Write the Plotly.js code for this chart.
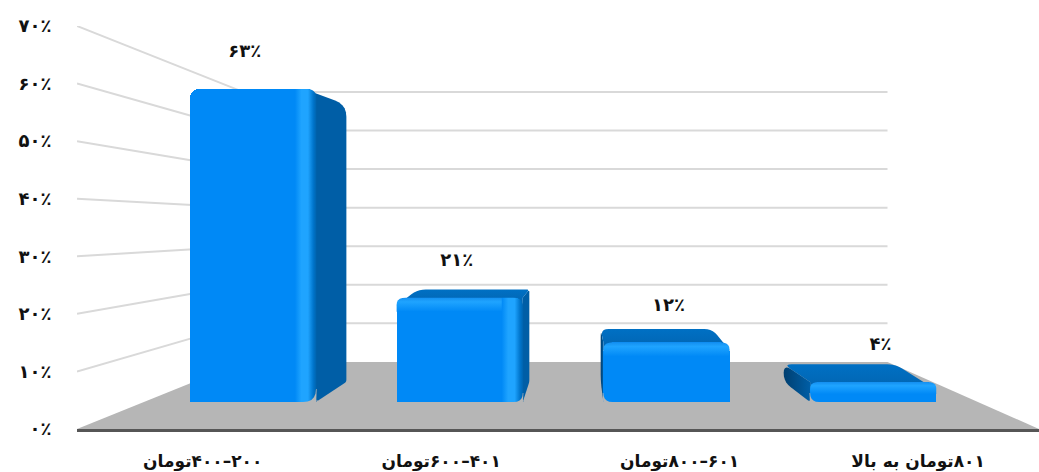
<!DOCTYPE html>
<html>
<head>
<meta charset="utf-8">
<script src="https://cdn.plot.ly/plotly-3.0.1.min.js"></script>
<style>html,body{margin:0;padding:0;background:#fff}#chart{width:1039px;height:472px}</style>
</head>
<body>
<div id="chart"></div>
<script>
// Chart content
const categories = ['\u202B۲۰۰–۴۰۰تومان\u202C', '\u202B۴۰۱–۶۰۰تومان\u202C', '\u202B۶۰۱–۸۰۰تومان\u202C', '\u202B۸۰۱تومان به بالا\u202C'];
const shares = [63, 21, 12, 4];
const shareLabels = ['۶۳٪', '۲۱٪', '۱۲٪', '۴٪'];
const yTicks = [0, 10, 20, 30, 40, 50, 60, 70];
const yTickLabels = ['۰٪', '۱۰٪', '۲۰٪', '۳۰٪', '۴۰٪', '۵۰٪', '۶۰٪', '۷۰٪'];

// Canvas and perspective set-up (all scene geometry is projected towards one vanishing point)
const W = 1039, H = 472;
const xRange = [-0.527, 3.507];
const vanish = {x: 1.582, y: 35.3};
const kBackWall = 0.67;     // back wall relative to the front edge of the floor
const kBarDepth = 0.885;    // rear of a bar relative to its front face
const kLabel = 1.025;       // horizontal spread of the value labels
const barWidth = 0.61;
const pxPerX = 206.7, pxPerY = 4.97;
const fontFamily = '"DejaVu Sans", "Noto Sans", sans-serif';
const ink = '#111111';
const c = {floor: '#B6B6B6', grid: '#D9D9D9', front: '#0089F6', light: '#1FA4FF',
           side: '#005EA6', sideDark: '#003F70', top: '#0264B0', topLight: '#0070C4', axis: '#565656'};

const project = (x, v, k) => [vanish.x + k * (x - vanish.x), vanish.y + k * (v - vanish.y)];
const dx = px => px / pxPerX, dy = px => px / pxPerY;

// Replaces flagged polygon corners by a short quadratic arc; radius is in pixels
function rounded(points, radii) {
  const xs = [], ys = [], n = points.length;
  const toPx = p => [p[0] * pxPerX, p[1] * pxPerY];
  points.forEach((p, i) => {
    const r = radii[i];
    if (!r) { xs.push(p[0]); ys.push(p[1]); return; }
    const a = toPx(points[(i + n - 1) % n]), b = toPx(p), d = toPx(points[(i + 1) % n]);
    const la = Math.hypot(a[0] - b[0], a[1] - b[1]), ld = Math.hypot(d[0] - b[0], d[1] - b[1]);
    const ra = Math.min(r, la / 2), rd = Math.min(r, ld / 2);
    const s = [b[0] + (a[0] - b[0]) * ra / la, b[1] + (a[1] - b[1]) * ra / la];
    const e = [b[0] + (d[0] - b[0]) * rd / ld, b[1] + (d[1] - b[1]) * rd / ld];
    for (let t = 0; t <= 1.001; t += 0.2) {
      const u = 1 - t;
      xs.push((u * u * s[0] + 2 * u * t * b[0] + t * t * e[0]) / pxPerX);
      ys.push((u * u * s[1] + 2 * u * t * b[1] + t * t * e[1]) / pxPerY);
    }
  });
  xs.push(xs[0]); ys.push(ys[0]);
  return {x: xs, y: ys};
}

function solid(pts, color, ax) {
  return {type: 'scatter', mode: 'none', x: pts.map(p => p[0]).concat(pts[0][0]), y: pts.map(p => p[1]).concat(pts[0][1]),
          fill: 'toself', fillcolor: color, hoverinfo: 'skip', showlegend: false, xaxis: ax[0], yaxis: ax[1]};
}
function graded(shape, type, stops, ax) {
  return {type: 'scatter', mode: 'none', x: shape.x, y: shape.y, fill: 'toself',
          fillgradient: {type: type, colorscale: stops}, hoverinfo: 'skip', showlegend: false, xaxis: ax[0], yaxis: ax[1]};
}
function seg(a, b) {
  return {type: 'scatter', mode: 'lines', x: [a[0], b[0]], y: [a[1], b[1]], line: {color: c.grid, width: 2},
          hoverinfo: 'skip', showlegend: false, xaxis: 'x', yaxis: 'y'};
}

const traces = [];

// Floor and wall grid, on the front-edge axes
const [xL, xR] = xRange;
traces.push(solid([[xL, 0], [xR, 0], project(xR, 0, kBackWall), project(xL, 0, kBackWall)], c.floor, ['x', 'y']));
yTicks.filter(v => v > 0).forEach(v => {
  const bl = project(xL, v, kBackWall), br = project(xR, v, kBackWall);
  traces.push(seg([xL, v], bl));
  traces.push(seg(bl, br));
});

// Depth faces of each bar, behind the front faces
const depthAxes = ['x2', 'y2'], frontAxes = ['x3', 'y3'];
shares.forEach((v, i) => {
  const x0 = i - barWidth / 2, x1 = i + barWidth / 2;
  const b = (x, val) => project(x, val, kBarDepth);
  const tall = v > vanish.y;
  if (x0 > vanish.x) {
    traces.push(graded(rounded([[x0, 0], b(x0, 0), b(x0, v), [x0, v]], [3, 9, 9, 0]), 'horizontal',
      [[0, c.sideDark], [1, c.side]], depthAxes));
  }
  if (x1 < vanish.x) {
    const inner = tall ? 12 : 0;
    traces.push(graded(rounded([[x1, 0], b(x1, 0), b(x1, v), [x1 - dx(inner), v], [x1 - dx(inner), v - dy(inner)]],
      [4, 2, tall ? 12 : 3, 0, 0]), 'horizontal', [[0, c.side], [1, c.side]], depthAxes));
  }
  if (!tall) {
    // the corner turned away from the vanishing point falls away in a long chamfer
    const dropL = x1 < vanish.x ? 8 : 0, dropR = x0 > vanish.x ? 8 : 0;
    traces.push(graded(rounded([[x0, v - dy(Math.max(dropL, dropR))], [x1, v - dy(Math.max(dropL, dropR))],
        [x1, v - dy(dropR)], b(x1, v), b(x0, v), [x0, v - dy(dropL)]],
      [0, 0, 0, x1 < vanish.x ? 3 : 8, 8, 0]), 'vertical', [[0, c.top], [1, c.topLight]], depthAxes));
  }
});

// Front faces
traces.push({type: 'bar', x: shares.map((_, i) => i), y: shares, width: barWidth, xaxis: 'x3', yaxis: 'y3',
  marker: {color: c.front, line: {width: 0}, cornerradius: 9}, hoverinfo: 'skip', showlegend: false});

// Bevel highlights on the front faces
shares.forEach((v, i) => {
  const x0 = i - barWidth / 2, x1 = i + barWidth / 2;
  if (x1 < vanish.x) {
    const box = [[x1 - dx(21), 0], [x1 + dx(0.5), 0], [x1 + dx(0.5), v], [x1 - dx(21), v]];
    traces.push(graded(rounded(box, [0, 0, 10, 0]), 'horizontal',
      [[0, c.front], [0.3, c.light], [0.6, c.light], [0.85, '#0075CC'], [1, '#0062AC']], frontAxes));
  }
  if (v < vanish.y) {
    const h = Math.min(14, v * pxPerY * 0.6);
    const inset = x1 < vanish.x ? 21 : 0;
    const box = [[x0, v], [x1 - dx(inset), v], [x1 - dx(inset), v - dy(h)], [x0, v - dy(h)]];
    traces.push(graded(rounded(box, [9, inset ? 0 : 9, 0, 0]), 'vertical',
      [[0, c.front], [0.7, c.light], [1, '#148FF0']], frontAxes));
  }
  // Softened foot of the bar on the corner nearest the floor
  const r = v > vanish.y ? 13 : 9;
  const cx = x1 < vanish.x ? x1 : x0;
  const sign = x1 < vanish.x ? -1 : 1;
  const foot = [[cx + 0.001 * -sign, 0]];
  for (let t = 0; t <= 1.001; t += 0.2) {
    const u = 1 - t;
    foot.push([cx + sign * dx(r) * u * u, dy(r) * t * t]);
  }
  foot.push([cx - 0.003 * sign, dy(r)]);
  traces.push(solid(foot, c.floor, frontAxes));
});

// Value labels above each bar
traces.push({type: 'scatter', mode: 'text', xaxis: 'x3', yaxis: 'y3', cliponaxis: false,
  x: shares.map((_, i) => vanish.x + kLabel * (i - vanish.x)), y: shares.map(v => v + 7.3),
  text: shareLabels, textposition: 'middle center',
  textfont: {family: fontFamily, size: 18, color: ink, weight: 'bold'}, hoverinfo: 'skip', showlegend: false});

const yd = (a, b) => [(H - a) / H, (H - b) / H];
const barTop = 402 - 80 * pxPerY;
const layout = {
  width: W, height: H, margin: {l: 0, r: 0, t: 0, b: 0}, paper_bgcolor: '#fff', plot_bgcolor: 'rgba(0,0,0,0)',
  showlegend: false, bargap: 0,
  xaxis: {domain: [77 / W, 1], range: xRange, tickvals: [0, 1, 2, 3], ticktext: categories, showgrid: false, zeroline: false,
          showline: true, linecolor: c.axis, linewidth: 3, ticks: 'outside', ticklen: 15, tickcolor: 'rgba(0,0,0,0)',
          tickfont: {family: fontFamily, size: 17, color: ink, weight: 'bold'}, fixedrange: true},
  yaxis: {domain: yd(429, 26), range: [0, 70], tickvals: yTicks, ticktext: yTickLabels, showgrid: false, zeroline: false,
          showline: false, ticks: 'outside', ticklen: 21, tickcolor: 'rgba(0,0,0,0)',
          tickfont: {family: fontFamily, size: 18, color: ink, weight: 'bold'}, fixedrange: true},
  xaxis2: {domain: [144 / W, 978 / W], range: xRange, anchor: 'y2', visible: false, fixedrange: true},
  yaxis2: {domain: yd(402, barTop), range: [0, 80], anchor: 'x2', visible: false, fixedrange: true},
  xaxis3: {domain: [144 / W, 978 / W], range: xRange, anchor: 'y3', visible: false, fixedrange: true},
  yaxis3: {domain: yd(402, barTop), range: [0, 80], anchor: 'x3', visible: false, fixedrange: true}
};
Plotly.newPlot('chart', traces, layout, {displayModeBar: false, staticPlot: true});
</script>
</body>
</html>
